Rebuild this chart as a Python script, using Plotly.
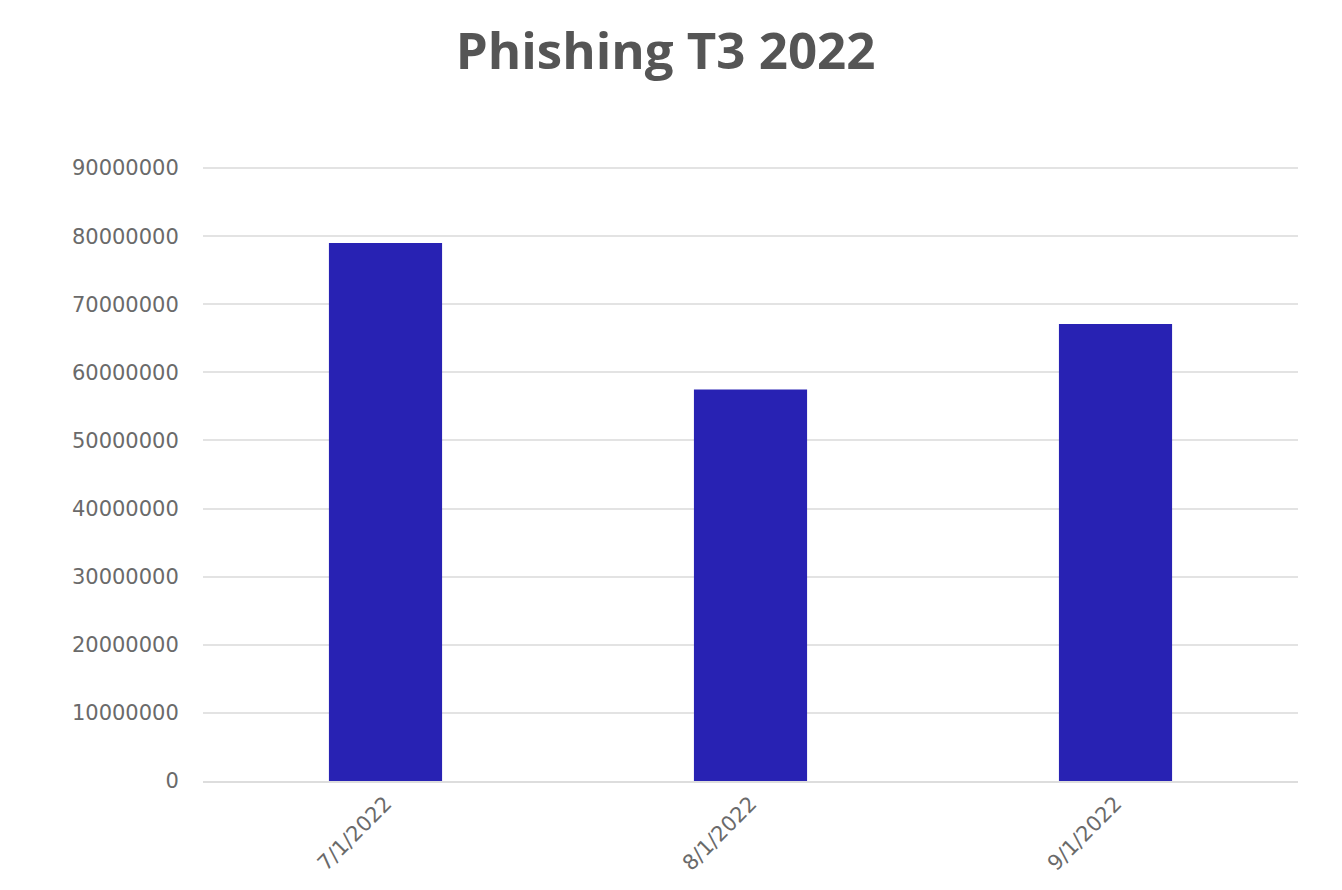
import plotly.graph_objects as go

# Data
months = ['7/1/2022', '8/1/2022', '9/1/2022']
phishing = [79000000, 57500000, 67100000]
y_ticks = [0, 10000000, 20000000, 30000000, 40000000, 50000000,
           60000000, 70000000, 80000000, 90000000]

tick_font = dict(family='DejaVu Sans, sans-serif', size=21, color='#6a6a6a')

fig = go.Figure()
fig.add_trace(go.Bar(x=months, y=phishing, marker_color='#2822B3',
                     marker_line_width=0, name='Phishing'))

fig.update_layout(
    width=1342, height=890,
    paper_bgcolor='white', plot_bgcolor='white',
    title=dict(text='<b>Phishing T3 2022</b>', x=0.49, xanchor='center',
               yref='container', y=0.952, yanchor='middle',
               font=dict(family='Open Sans, Lato, sans-serif', size=51, color='#555555')),
    margin=dict(l=195, r=52, t=158, b=117),
    bargap=0.69,
    showlegend=False,
    font=dict(family='DejaVu Sans, sans-serif', color='#666666'),
)
fig.update_xaxes(tickangle=-45, tickfont=tick_font,
                 showline=True, linecolor='#dddddd', linewidth=2,
                 ticks='', showgrid=False)
fig.update_yaxes(range=[0, 90300000], tickvals=y_ticks,
                 tickformat='d', tickfont=tick_font,
                 showgrid=True, gridcolor='#e3e3e3', gridwidth=2,
                 zeroline=False, ticks='outside', ticklen=19, tickcolor='white')

fig.write_html("out.html")
